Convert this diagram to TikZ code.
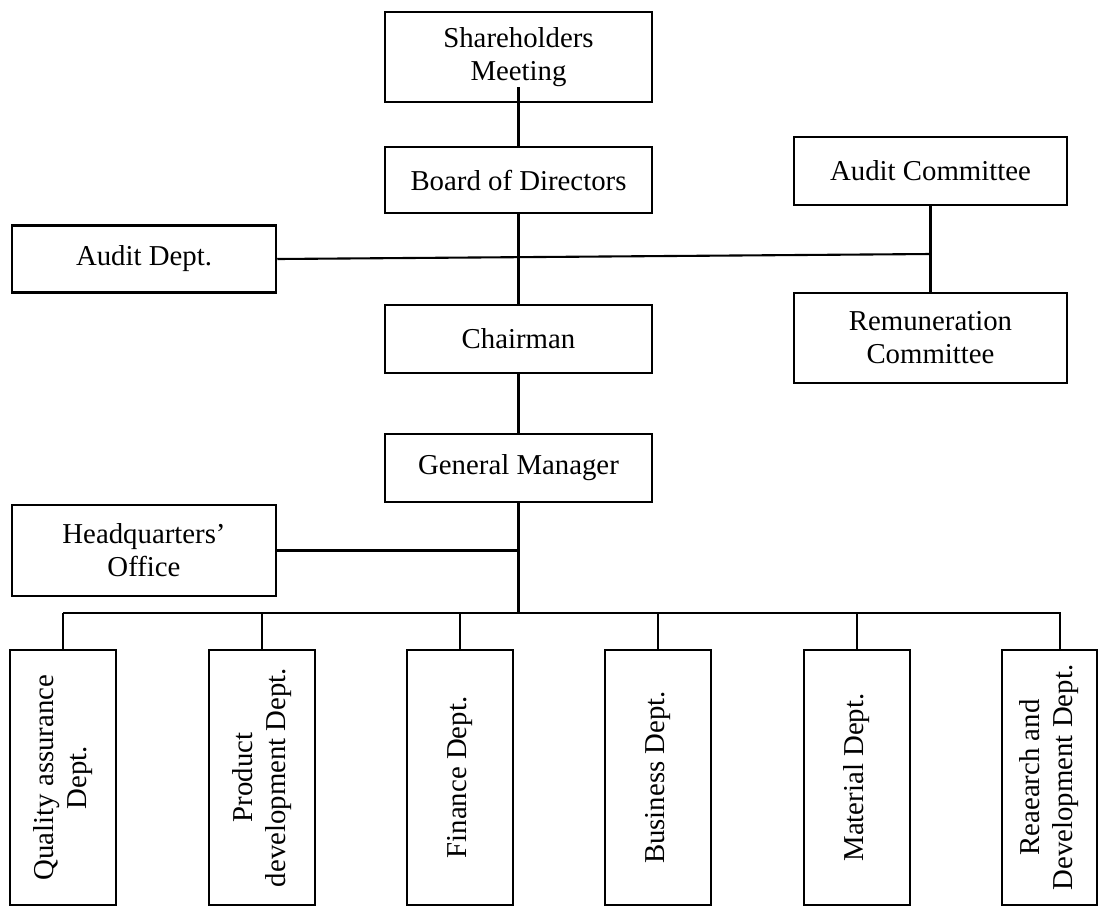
\documentclass[tikz,border=0pt]{standalone}
\usepackage{fontspec}
\setmainfont{Liberation Serif}
\usetikzlibrary{calc}

\tikzset{
  orgbox/.style={draw, line width=1.25pt, align=center, inner sep=0pt},
  deptbox/.style={orgbox, minimum width=53pt, minimum height=127.5pt},
  conn/.style={line width=1.05pt},
}

\begin{document}
\begin{tikzpicture}[x=0.5pt, y=-0.5pt, font=\fontsize{14.4}{16.5}\selectfont]
    \useasboundingbox (0,0) rectangle (1099,907);

    \node (share) [orgbox, minimum width=133.5pt, minimum height=45pt] at (518.5,57) {Shareholders\\Meeting};
    \node (board) [orgbox, minimum width=133.5pt, minimum height=33pt] at (518.5,180) {Board of Directors};
    \node (acom)  [orgbox, minimum width=136.5pt, minimum height=34pt] at (930.5,171) {Audit Committee};
    \node (adept) [orgbox, minimum width=132pt, minimum height=33.5pt] at (144,259) {Audit Dept.};
    \node (chair) [orgbox, minimum width=133.5pt, minimum height=34pt] at (518.5,339) {Chairman};
    \node (remun) [orgbox, minimum width=136.5pt, minimum height=45pt] at (930.5,338) {Remuneration\\Committee};
    \node (gm)    [orgbox, minimum width=133.5pt, minimum height=34pt] at (518.5,468) {General Manager};
    \node (hq)    [orgbox, minimum width=132pt, minimum height=45.5pt] at (144,550.5) {Headquarters'\\Office};

    % departments
    \foreach \name/\x/\txt in {qa/63/{Quality assurance\\Dept.},
                               pd/262/{Product\\development Dept.},
                               fin/460/{Finance Dept.},
                               biz/658/{Business Dept.},
                               mat/857/{Material Dept.}}
      \node (\name) [deptbox] at (\x,777.5)
        {\rotatebox{90}{\begin{tabular}{@{}c@{}}\txt\end{tabular}}};
    \node (rd) [deptbox, minimum width=47.5pt] at (1049.5,777.5)
        {\rotatebox{90}{\begin{tabular}{@{}c@{}}Reaearch and\\Development Dept.\end{tabular}}};

    \coordinate (cjoin) at (930.5,254);
    \coordinate (bus) at (518.5,613);
    \coordinate (busR) at (1060,613);

    \draw[conn] ($(share.south)+(0,-16)$) -- (board.north);
    \draw[conn] (board.south) -- (chair.north);
    \draw[conn] (acom.south) -- (remun.north);
    \draw[conn] (adept.east) -- (cjoin);
    \draw[conn] (chair.south) -- (gm.north);
    \draw[conn] (gm.south) -- (bus);
    \draw[conn] (hq.east) -- (hq.east -| gm.south);
    \draw[conn] (qa.north |- bus) -- (busR) -- (busR |- rd.north);
    \foreach \d in {qa,pd,fin,biz,mat}
      \draw[conn] (\d.north |- bus) -- (\d.north);
\end{tikzpicture}
\end{document}
